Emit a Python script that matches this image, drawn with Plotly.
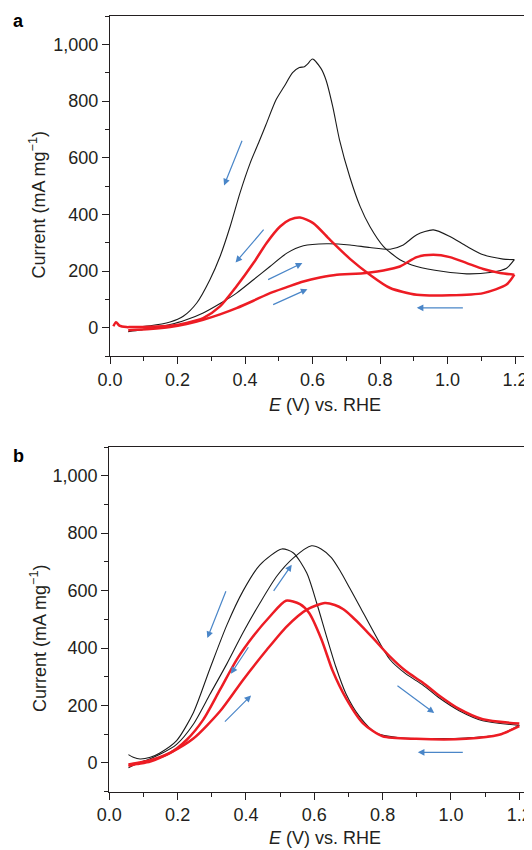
import plotly.graph_objects as go

W, H = 532, 850
OX, OY = 8, 8  # page offset of the plot div (body margin)

# ---------------- Panel a data ----------------
a_blk_fwd_x = [0.054, 0.09, 0.12, 0.15, 0.178, 0.22, 0.276, 0.33, 0.375, 0.425, 0.474, 0.524, 0.573,
               0.642, 0.711, 0.770, 0.830, 0.869, 0.909, 0.958, 1.007, 1.057, 1.106, 1.165, 1.198]
a_blk_fwd_y = [-14, -8, -2, 4, 11, 25, 52, 88, 122, 169, 216, 263, 289,
               296, 292, 283, 277, 292, 328, 345, 322, 287, 257, 242, 240]

a_blk_bwd_x = [1.198, 1.175, 1.126, 1.057, 0.988, 0.909, 0.859, 0.810, 0.770, 0.741, 0.711, 0.68,
               0.66, 0.64, 0.625, 0.60, 0.585, 0.576, 0.561, 0.541, 0.516, 0.492, 0.462, 0.444,
               0.415, 0.385, 0.356, 0.326, 0.296, 0.257, 0.217, 0.178, 0.119, 0.059]
a_blk_bwd_y = [240, 210, 195, 190, 198, 216, 240, 287, 357, 428, 530, 663,
               780, 874, 915, 948, 930, 921, 918, 900, 851, 804, 716, 663,
               580, 475, 357, 251, 169, 87, 40, 20, 7, 2]

a_red_fwd_x = [0.054, 0.119, 0.178, 0.227, 0.276, 0.326, 0.375, 0.425, 0.474, 0.524, 0.573, 0.622,
               0.672, 0.711, 0.770, 0.810, 0.859, 0.909, 0.958, 1.007, 1.057, 1.106, 1.156, 1.198]
a_red_fwd_y = [-9, -5, 2, 13, 28, 47, 69, 95, 122, 143, 163, 177,
               187, 189, 195, 202, 216, 249, 257, 249, 228, 207, 193, 187]

a_red_bwd_x = [1.198, 1.175, 1.106, 1.007, 0.909, 0.830, 0.770, 0.711, 0.652, 0.602, 0.563, 0.533,
               0.504, 0.464, 0.425, 0.375, 0.326, 0.276, 0.227, 0.178, 0.119, 0.06, 0.049, 0.028,
               0.018, 0.01]
a_red_bwd_y = [187, 152, 122, 114, 116, 140, 187, 243, 310, 369, 389, 381,
               357, 299, 228, 146, 75, 34, 17, 7, 3, 2, 2, 7,
               19, 5]

# arrows: (tail_x, tail_y, head_x, head_y)
a_arrows = [(0.393, 665, 0.338, 502),
            (0.459, 351, 0.372, 230),
            (0.464, 167, 0.570, 228),
            (0.479, 79, 0.585, 136),
            (1.050, 70, 0.909, 70)]

# ---------------- Panel b data ----------------
b_blk_fwd_x = [0.056, 0.07, 0.09, 0.12, 0.148, 0.197, 0.246, 0.295, 0.344, 0.392, 0.441, 0.490,
               0.539, 0.592, 0.62, 0.65, 0.675, 0.704, 0.734, 0.781, 0.82, 0.868, 0.917, 0.966,
               1.024, 1.093, 1.2]
b_blk_fwd_y = [-17, -8, 2, 15, 30, 65, 135, 240, 345, 455, 557, 650,
               714, 756, 745, 715, 670, 608, 543, 440, 362, 310, 272, 226,
               182, 147, 131]

b_blk_bwd_x = [1.2, 1.141, 1.044, 0.946, 0.849, 0.781, 0.732, 0.693, 0.663, 0.636, 0.607, 0.578,
               0.539, 0.505, 0.441, 0.392, 0.344, 0.295, 0.246, 0.197, 0.148, 0.12, 0.09, 0.07,
               0.056]
b_blk_bwd_y = [131, 98, 87, 85, 88, 104, 162, 240, 335, 440, 557, 661,
               731, 745, 690, 600, 480, 330, 175, 78, 35, 20, 14, 20,
               29]

b_red_fwd_x = [0.056, 0.08, 0.12, 0.178, 0.246, 0.324, 0.392, 0.461, 0.519, 0.578, 0.631, 0.66,
               0.685, 0.71, 0.74, 0.77, 0.82, 0.868, 0.917, 0.966, 1.024, 1.093, 1.2]
b_red_fwd_y = [-10, -4, 5, 35, 85, 180, 290, 394, 475, 534, 557, 550,
               535, 510, 475, 437, 372, 320, 280, 234, 188, 152, 137]

b_red_bwd_x = [1.2, 1.141, 1.044, 0.898, 0.80, 0.742, 0.693, 0.654, 0.621, 0.585, 0.558, 0.517,
               0.470, 0.421, 0.373, 0.324, 0.275, 0.226, 0.178, 0.12, 0.08, 0.056]
b_red_bwd_y = [128, 98, 84, 84, 93, 139, 225, 320, 430, 522, 553, 565,
               510, 441, 360, 255, 151, 80, 35, 10, 0, -5]

b_arrows = [(0.343, 603, 0.287, 435),
            (0.478, 594, 0.534, 690),
            (0.410, 408, 0.356, 311),
            (0.334, 139, 0.415, 235),
            (0.839, 273, 0.951, 174),
            (1.039, 37, 0.903, 37)]

y_tickvals = [0, 200, 400, 600, 800, 1000]
y_ticktext = ["0", "200", "400", "600", "800", "1,000"]
x_tickvals = [0.0, 0.2, 0.4, 0.6, 0.8, 1.0, 1.2]
x_ticktext = ["0.0", "0.2", "0.4", "0.6", "0.8", "1.0", "1.2"]

BLACK = "#1a1a1a"
RED = "#ed1c24"
BLUE = "#4a86c8"
TXT = "#231f20"
FONT = "Liberation Sans, Arial, sans-serif"

fig = go.Figure()


def add_curve(x, y, color, width, xa, ya):
    fig.add_trace(go.Scatter(x=x, y=y, mode="lines", xaxis=xa, yaxis=ya,
                             line=dict(color=color, width=width, shape="spline", smoothing=0.7),
                             showlegend=False, hoverinfo="skip"))


add_curve(a_blk_fwd_x, a_blk_fwd_y, BLACK, 1.1, "x", "y")
add_curve(a_blk_bwd_x, a_blk_bwd_y, BLACK, 1.1, "x", "y")
add_curve(a_red_fwd_x, a_red_fwd_y, RED, 2.5, "x", "y")
add_curve(a_red_bwd_x, a_red_bwd_y, RED, 2.5, "x", "y")

add_curve(b_blk_fwd_x, b_blk_fwd_y, BLACK, 1.1, "x2", "y2")
add_curve(b_blk_bwd_x, b_blk_bwd_y, BLACK, 1.1, "x2", "y2")
add_curve(b_red_fwd_x, b_red_fwd_y, RED, 2.5, "x2", "y2")
add_curve(b_red_bwd_x, b_red_bwd_y, RED, 2.5, "x2", "y2")


def px_x(p):
    return (p - OX) / W


def px_y(p):
    return 1 - (p - OY) / H


common_x = dict(tickmode="array", tickvals=x_tickvals, ticktext=x_ticktext,
                ticks="outside", ticklen=7, tickwidth=1.2, tickcolor=TXT,
                minor=dict(tickmode="linear", tick0=0, dtick=0.1, ticks="outside",
                           ticklen=4, tickwidth=1.2, tickcolor=TXT),
                showline=True, linecolor=TXT, linewidth=1.3, mirror=True,
                showgrid=False, zeroline=False, automargin=False,
                tickfont=dict(family=FONT, size=18, color=TXT))
common_y = dict(tickmode="array", tickvals=y_tickvals, ticktext=y_ticktext,
                ticks="outside", ticklen=7, tickwidth=1.2, tickcolor=TXT,
                minor=dict(tickmode="linear", tick0=0, dtick=100, ticks="outside",
                           ticklen=4, tickwidth=1.2, tickcolor=TXT),
                showline=True, linecolor=TXT, linewidth=1.3,
                showgrid=False, zeroline=False, range=[-100, 1100], automargin=False,
                tickfont=dict(family=FONT, size=18, color=TXT))

# pixel positions (page coords) of axis range ends
a_x0, a_x12 = 110, 515
b_x0, b_x12 = 109.3, 519.3
right_edge = OX + W
a_xmax = 1.2 * (right_edge - a_x0) / (a_x12 - a_x0)
b_xmax = 1.2 * (right_edge - b_x0) / (b_x12 - b_x0)

fig.update_layout(
    template="none",
    width=W, height=H,
    margin=dict(l=0, r=0, t=0, b=0, pad=0, autoexpand=False),
    paper_bgcolor="white", plot_bgcolor="white",
    font=dict(family=FONT, color=TXT),
    xaxis=dict(domain=[px_x(a_x0), 1], range=[0, a_xmax], anchor="y", **common_x),
    yaxis=dict(domain=[px_y(356), px_y(16)], anchor="x", **common_y),
    xaxis2=dict(domain=[px_x(b_x0), 1], range=[0, b_xmax], anchor="y2", **common_x),
    yaxis2=dict(domain=[px_y(791.7), px_y(447)], anchor="x2", **common_y),
    shapes=[dict(type="line", xref="paper", yref="paper",
                 x0=px_x(531), x1=px_x(531), y0=px_y(356), y1=px_y(16),
                 line=dict(color="#9a9a9a", width=1))],
)

annotations = []
for (tx, ty, hx, hy) in a_arrows:
    annotations.append(dict(x=hx, y=hy, ax=tx, ay=ty, xref="x", yref="y", axref="x", ayref="y",
                            text="", showarrow=True, arrowhead=2, arrowsize=1.1,
                            arrowwidth=1.2, arrowcolor=BLUE))
for (tx, ty, hx, hy) in b_arrows:
    annotations.append(dict(x=hx, y=hy, ax=tx, ay=ty, xref="x2", yref="y2", axref="x2", ayref="y2",
                            text="", showarrow=True, arrowhead=2, arrowsize=1.1,
                            arrowwidth=1.2, arrowcolor=BLUE))

title_font = dict(family=FONT, size=18, color=TXT)
ytitle = "Current (mA mg<sup>\u22121</sup>)"
xtitle = "<i>E</i> (V) vs. RHE"
for cy in (205.5, 639):
    annotations.append(dict(x=px_x(38), y=px_y(cy), xref="paper", yref="paper", text=ytitle,
                            textangle=-90, showarrow=False, font=title_font,
                            xanchor="center", yanchor="middle"))
for cx, cy in ((324.7, 404.5), (324.7, 838)):
    annotations.append(dict(x=px_x(cx), y=px_y(cy), xref="paper", yref="paper", text=xtitle,
                            showarrow=False, font=title_font, xanchor="center", yanchor="middle"))
for lab, cy in (("a", 20.7), ("b", 455.7)):
    annotations.append(dict(x=px_x(18), y=px_y(cy), xref="paper", yref="paper",
                            text="<b>%s</b>" % lab, showarrow=False,
                            font=dict(family=FONT, size=18, color="#000000"),
                            xanchor="center", yanchor="middle"))

fig.update_layout(annotations=annotations)

fig.write_html("out.html")
